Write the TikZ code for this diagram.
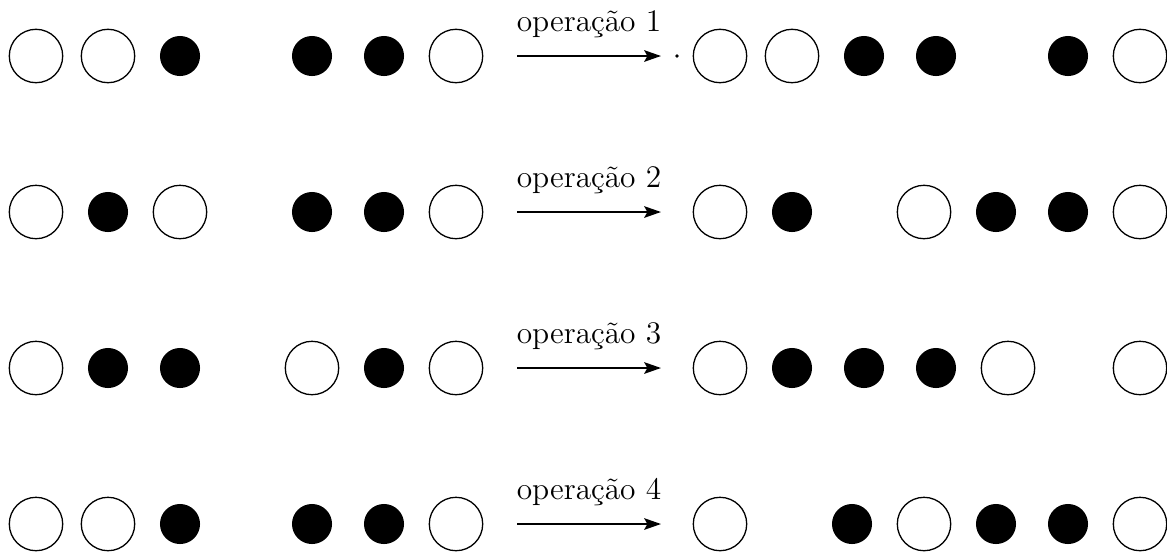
\documentclass[tikz,border=0pt]{standalone}
\usetikzlibrary{arrows.meta}
\begin{document}
\begin{tikzpicture}[x=0.382pt,y=-0.382pt,
  opn/.style={circle,draw,line width=0.5pt,minimum size=20.4pt,inner sep=0pt},
  blk/.style={circle,fill=black,minimum size=15.3pt,inner sep=0pt},
  op/.style={-{Stealth[length=6.4pt,width=4.4pt,inset=1.2pt]},line width=0.85pt},
  oplabel/.style={font=\fontsize{12}{14}\selectfont,anchor=base,inner sep=0pt},
  tinydot/.style={circle,fill=black,inner sep=0pt,minimum size=1.4pt}]
\useasboundingbox (0,0) rectangle (1167,552);

% row 1
\foreach \x/\s [count=\i] in {36/opn,108/opn,180/blk,312/blk,384/blk,456/opn}
  \node[\s] (a\i) at (\x,56) {};
\foreach \x/\s [count=\i] in {720/opn,792/opn,864/blk,936/blk,1068/blk,1140/opn}
  \node[\s] (b\i) at (\x,56) {};
\coordinate (as) at (517,56);
\coordinate (ae) at (661,56);
\draw[op] (as) -- (ae);
\node[oplabel] (la) at (589,31.5) {operação 1};
\node[tinydot] (dot) at (677,56) {};

% row 2
\foreach \x/\s [count=\i] in {36/opn,108/blk,180/opn,312/blk,384/blk,456/opn}
  \node[\s] (c\i) at (\x,212) {};
\foreach \x/\s [count=\i] in {720/opn,792/blk,924/opn,996/blk,1068/blk,1140/opn}
  \node[\s] (d\i) at (\x,212) {};
\coordinate (cs) at (517,212);
\coordinate (ce) at (661,212);
\draw[op] (cs) -- (ce);
\node[oplabel] (lc) at (589,187.5) {operação 2};

% row 3
\foreach \x/\s [count=\i] in {36/opn,108/blk,180/blk,312/opn,384/blk,456/opn}
  \node[\s] (e\i) at (\x,368) {};
\foreach \x/\s [count=\i] in {720/opn,792/blk,864/blk,936/blk,1008/opn,1140/opn}
  \node[\s] (f\i) at (\x,368) {};
\coordinate (es) at (517,368);
\coordinate (ee) at (661,368);
\draw[op] (es) -- (ee);
\node[oplabel] (le) at (589,343.5) {operação 3};

% row 4
\foreach \x/\s [count=\i] in {36/opn,108/opn,180/blk,312/blk,384/blk,456/opn}
  \node[\s] (g\i) at (\x,524) {};
\foreach \x/\s [count=\i] in {720/opn,852/blk,924/opn,996/blk,1068/blk,1140/opn}
  \node[\s] (h\i) at (\x,524) {};
\coordinate (gs) at (517,524);
\coordinate (ge) at (661,524);
\draw[op] (gs) -- (ge);
\node[oplabel] (lg) at (589,499.5) {operação 4};
\end{tikzpicture}
\end{document}
